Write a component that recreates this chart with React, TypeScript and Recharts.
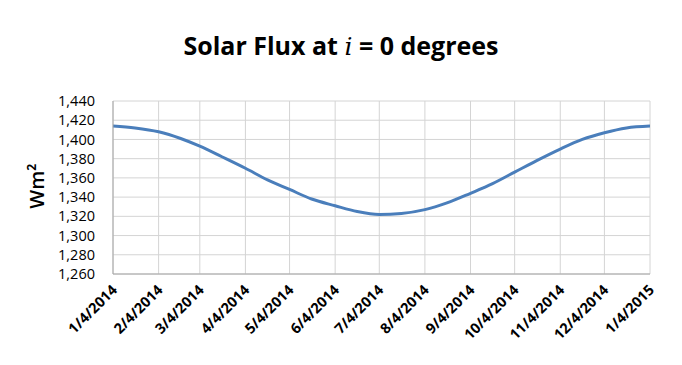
import { LineChart, Line, XAxis, YAxis, CartesianGrid, Label } from 'recharts';

// day offset from 1/4/2014
const days = [0, 15, 31, 46, 59, 74, 90, 105, 120, 135, 151, 166, 181, 196, 212, 227, 243, 258, 273, 288, 304, 319, 334, 349, 365];
const flux = [1414, 1412, 1408, 1401, 1393, 1382, 1370, 1358, 1348, 1338, 1331, 1325, 1322, 1323, 1327, 1334, 1344, 1354, 1366, 1378, 1390, 1400, 1407, 1412, 1414];

const monthTicks = [0, 31, 59, 90, 120, 151, 181, 212, 243, 273, 304, 334, 365];
const monthLabels = ['1/4/2014', '2/4/2014', '3/4/2014', '4/4/2014', '5/4/2014', '6/4/2014', '7/4/2014', '8/4/2014', '9/4/2014', '10/4/2014', '11/4/2014', '12/4/2014', '1/4/2015'];

const yTicks = [1260, 1280, 1300, 1320, 1340, 1360, 1380, 1400, 1420, 1440];

const data = days.map((d, i) => ({ day: d, flux: flux[i] }));

const FONT = '"Open Sans", "Noto Sans", sans-serif';

function DateTick(props: any) {
  const { x, y, payload } = props;
  const idx = monthTicks.indexOf(payload.value);
  return (
    <g transform={`translate(${x + 5},${y + 9})`}>
      <text
        textAnchor="end"
        transform="rotate(-45)"
        fontFamily={FONT}
        fontWeight="bold"
        fontSize={14.5}
        fill="#000"
      >
        {monthLabels[idx]}
      </text>
    </g>
  );
}

// y axis title, rotated
function UnitLabel() {
  return (
    <text
      x={44}
      y={186}
      transform="rotate(-90, 44, 186)"
      textAnchor="middle"
      fontFamily={FONT}
      fontWeight={600}
      fontSize={20}
      fill="#000"
    >
      Wm²
    </text>
  );
}

export default function App() {
  return (
    <div style={{ position: 'absolute', left: 0, top: 0, width: 682, height: 365, background: '#fff' }}>
      <div style={{
        position: 'absolute',
        left: 0,
        top: 28,
        width: 682,
        textAlign: 'center',
        fontFamily: FONT,
        fontWeight: 'bold',
        fontSize: 25,
        color: '#000'
      }}>
        Solar Flux at <span style={{ fontFamily: '"DejaVu Serif", serif', fontStyle: 'italic', fontWeight: 'normal' }}>i</span> = 0 degrees
      </div>
      <LineChart
        width={682}
        height={365}
        data={data}
        margin={{ top: 101, right: 32, bottom: 31, left: 53 }}
      >
        <CartesianGrid stroke="#d4d4d4" strokeWidth={1} />
        <XAxis
          dataKey="day"
          type="number"
          domain={[0, 365]}
          ticks={monthTicks}
          interval={0}
          height={60}
          stroke="#a6a6a6"
          tickLine={false}
          tick={<DateTick />}
        />
        <YAxis
          type="number"
          domain={[1260, 1440]}
          ticks={yTicks}
          interval={0}
          width={60}
          stroke="#a6a6a6"
          tickLine={false}
          tickSize={0}
          tickMargin={18}
          tickFormatter={(v: number) => v.toLocaleString('en-US')}
          tick={{ fontFamily: FONT, fontSize: 14.5, fill: '#000' }}
        >
          <Label content={<UnitLabel />} />
        </YAxis>
        <Line
          type="monotone"
          dataKey="flux"
          stroke="#4a7ebb"
          strokeWidth={3}
          dot={false}
          isAnimationActive={false}
        />
      </LineChart>
    </div>
  );
}
